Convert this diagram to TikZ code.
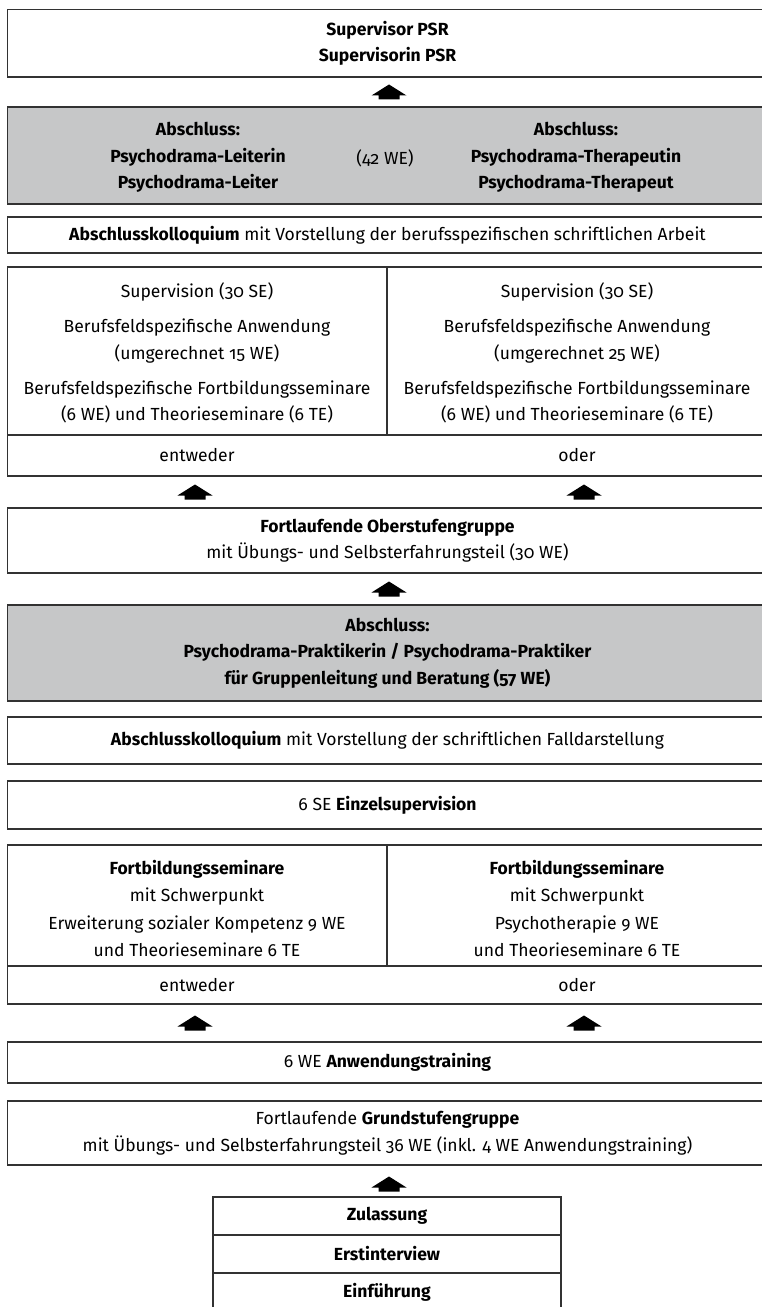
\documentclass[tikz,border=0pt]{standalone}
\usepackage{fontspec}
\setmainfont{Fira Sans}[Numbers=OldStyle]
\usetikzlibrary{calc}
\definecolor{framec}{RGB}{50,50,50}
\definecolor{fillg}{RGB}{198,199,200}
\tikzset{
  frame/.style={draw=framec, line width=1.3bp, rectangle, inner sep=0pt, outer sep=0pt, align=center,
                font=\fontsize{17.6}{26.5}\selectfont},
  graybox/.style={frame, fill=fillg},
  txt/.style={align=center, inner sep=0pt, font=\fontsize{17.6}{26.5}\selectfont},
  divline/.style={draw=framec, line width=1.3bp},
  uparr/.pic={\fill[black] (0,-7.5) -- (17.5,3.5) -- (10.5,3.5) -- (10.5,7.5) -- (-10.5,7.5) -- (-10.5,3.5) -- (-17.5,3.5) -- cycle;}
}
\begin{document}
\begin{tikzpicture}[x=1bp,y=-1bp]
\useasboundingbox (0,0) rectangle (761,1307);

% A
\node[frame, minimum width=760bp, minimum height=67.5bp] (sup) at (387.5,43.25)
  {\textbf{Supervisor PSR}\\\textbf{Supervisorin PSR}};
% B
\node[graybox, minimum width=760bp, minimum height=97bp] (abs1) at (387.5,155.5) {};
\node[txt] (abs1l) at (198,157.5) {\textbf{Abschluss:}\\\textbf{Psychodrama-Leiterin}\\\textbf{Psychodrama-Leiter}};
\node[txt] (abs1m) at (385,158) {(42 WE)};
\node[txt] (abs1r) at (576,157.5) {\textbf{Abschluss:}\\\textbf{Psychodrama-Therapeutin}\\\textbf{Psychodrama-Therapeut}};
% C
\node[frame, minimum width=760bp, minimum height=36bp] (kol1) at (387.5,235)
  {\textbf{Abschlusskolloquium} mit Vorstellung der berufsspezifischen schriftlichen Arbeit};
% D
\node[frame, minimum width=760bp, minimum height=209bp] (sv) at (387.5,371.5) {};
\draw[divline] ($(sv.north west)+(0,168)$) coordinate (svdl) -- ($(sv.north east)+(0,168)$) coordinate (svdr);
\draw[divline] (387,267) coordinate (svvt) -- (387,435) coordinate (svvb);
\node[txt] (svl) at (197,353) {Supervision (30 SE)\\[9bp]Berufsfeldspezifische Anwendung\\(umgerechnet 15 WE)\\[9bp]Berufsfeldspezifische Fortbildungsseminare\\(6 WE) und Theorieseminare (6 TE)};
\node[txt] (svr) at (577,353) {Supervision (30 SE)\\[9bp]Berufsfeldspezifische Anwendung\\(umgerechnet 25 WE)\\[9bp]Berufsfeldspezifische Fortbildungsseminare\\(6 WE) und Theorieseminare (6 TE)};
\node[txt] (ent1) at (197,455.5) {entweder};
\node[txt] (oder1) at (577,455.5) {oder};
% E
\node[frame, minimum width=760bp, minimum height=65bp] (ober) at (387.5,540.5)
  {\textbf{Fortlaufende Oberstufengruppe}\\mit Übungs- und Selbsterfahrungsteil (30 WE)};
% F
\node[graybox, minimum width=760bp, minimum height=96bp] (abs2) at (387.5,653)
  {\textbf{Abschluss:}\\\textbf{Psychodrama-Praktikerin / Psychodrama-Praktiker}\\\textbf{für Gruppenleitung und Beratung (57 WE)}};
% G
\node[frame, minimum width=760bp, minimum height=47bp] (kol2) at (387.5,740.5)
  {\textbf{Abschlusskolloquium} mit Vorstellung der schriftlichen Falldarstellung};
% H
\node[frame, minimum width=760bp, minimum height=48bp] (einz) at (387.5,805)
  {6 SE \textbf{Einzelsupervision}};
% I
\node[frame, minimum width=760bp, minimum height=159bp] (fb) at (387.5,924.5) {};
\draw[divline] ($(fb.north west)+(0,121)$) -- ($(fb.north east)+(0,121)$);
\draw[divline] (387,845) -- (387,966);
\node[txt, font=\fontsize{17.6}{27.6}\selectfont] (fbl) at (197,908.5) {\textbf{Fortbildungsseminare}\\mit Schwerpunkt\\Erweiterung sozialer Kompetenz 9 WE\\und Theorieseminare 6 TE};
\node[txt, font=\fontsize{17.6}{27.6}\selectfont] (fbr) at (577,908.5) {\textbf{Fortbildungsseminare}\\mit Schwerpunkt\\Psychotherapie 9 WE\\und Theorieseminare 6 TE};
\node[txt] (ent2) at (197,985) {entweder};
\node[txt] (oder2) at (577,985) {oder};
% J
\node[frame, minimum width=760bp, minimum height=41bp] (anw) at (387.5,1062.5)
  {6 WE \textbf{Anwendungstraining}};
% K
\node[frame, minimum width=760bp, minimum height=64bp] (grund) at (387.5,1133)
  {Fortlaufende \textbf{Grundstufengruppe}\\mit Übungs- und Selbsterfahrungsteil 36 WE (inkl. 4 WE Anwendungstraining)};
% L
\node[frame, minimum width=348bp, minimum height=38bp] (zul) at (387,1216) {\textbf{Zulassung}};
\node[frame, minimum width=348bp, minimum height=38bp, anchor=north] (erst) at (zul.south) {\textbf{Erstinterview}};
\node[frame, minimum width=348bp, minimum height=38bp, anchor=north] (einf) at (erst.south) {\textbf{Einführung}};

% arrows
\coordinate (xl) at (195,0);
\coordinate (xr) at (584,0);
\coordinate (xc) at (389,0);
\coordinate (m1) at ($(sup.south)!0.5!(abs1.north)$);
\coordinate (m2) at ($(sv.south)!0.5!(ober.north)$);
\coordinate (m3) at ($(ober.south)!0.5!(abs2.north)$);
\coordinate (m4) at ($(fb.south)!0.5!(anw.north)$);
\coordinate (m5) at ($(grund.south)!0.5!(zul.north)$);
\pic at (xc |- m1) {uparr};
\pic at (xl |- m2) {uparr};
\pic at (xr |- m2) {uparr};
\pic at (xc |- m3) {uparr};
\pic at (xl |- m4) {uparr};
\pic at (xr |- m4) {uparr};
\pic at ($(xc |- m5)+(0,3)$) {uparr};
\end{tikzpicture}
\end{document}
